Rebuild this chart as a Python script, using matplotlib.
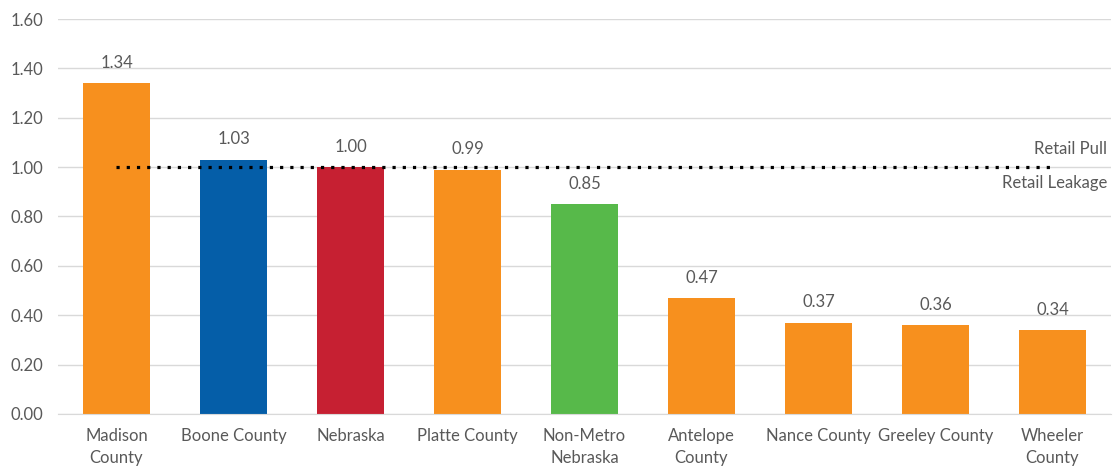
import matplotlib
matplotlib.use('Agg')
import matplotlib.pyplot as plt

categories = ['Madison\nCounty', 'Boone County', 'Nebraska', 'Platte County', 'Non-Metro\nNebraska',
              'Antelope\nCounty', 'Nance County', 'Greeley County', 'Wheeler\nCounty']
values = [1.34, 1.03, 1.00, 0.99, 0.85, 0.47, 0.37, 0.36, 0.34]
colors = ['#F7901E', '#055EA8', '#C62032', '#F7901E', '#57B94A',
          '#F7901E', '#F7901E', '#F7901E', '#F7901E']
threshold = 1.0

plt.rcParams['font.family'] = ['Lato', 'DejaVu Sans']
txt = '#595959'
fs = 12

fig = plt.figure(figsize=(11.15, 4.68), dpi=100)
ax = fig.add_axes([0.052, 0.1154, 0.9444, 0.844])

x = range(len(values))
ax.bar(x, values, 0.57, color=colors, zorder=2)
for i, v in zip(x, values):
    ax.text(i, v + 0.05, '%.2f' % v, ha='center', va='bottom', fontsize=fs, color=txt)

ax.plot([0, len(values) - 1], [threshold, threshold], color='black', linestyle=(0, (1, 2.2)),
        linewidth=2.3, zorder=3)
ax.text(len(values) - 0.53, threshold + 0.04, 'Retail Pull', ha='right', va='bottom', fontsize=fs, color=txt)
ax.text(len(values) - 0.53, threshold - 0.03, 'Retail Leakage', ha='right', va='top', fontsize=fs, color=txt)

ax.set_xlim(-0.5, len(values) - 0.5)
ax.set_ylim(0, 1.6)
ax.set_yticks([i * 0.2 for i in range(9)])
ax.set_yticklabels(['%.2f' % (i * 0.2) for i in range(9)])
ax.set_xticks(list(x))
ax.set_xticklabels(categories, linespacing=1.5)
ax.yaxis.grid(True, color='#D9D9D9', linewidth=1)
ax.set_axisbelow(True)
for s in ['top', 'right', 'left']:
    ax.spines[s].set_visible(False)
ax.spines['bottom'].set_color('#D9D9D9')
ax.tick_params(axis='both', length=0, labelsize=fs, colors=txt, pad=10)
ax.tick_params(axis='y', pad=34)
for lbl in ax.get_yticklabels():
    lbl.set_horizontalalignment('left')

plt.savefig('out.png')
